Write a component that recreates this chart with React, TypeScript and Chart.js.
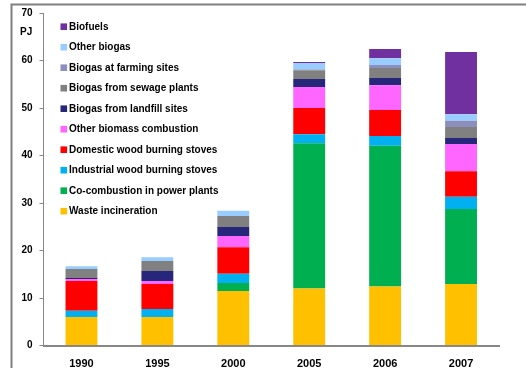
import React, { useEffect, useRef } from "react";
import { Chart, registerables } from "chart.js";

Chart.register(...registerables);

const categories = ["1990", "1995", "2000", "2005", "2006", "2007"];

const wasteIncineration = [6.0, 6.0, 11.5, 12.0, 12.4, 12.95];
const coCombustion = [0, 0, 1.65, 30.6, 29.65, 15.8];
const industrialWood = [1.3, 1.7, 1.95, 1.9, 2.05, 2.55];
const domesticWood = [6.3, 5.25, 5.6, 5.5, 5.5, 5.4];
const otherBiomass = [0.4, 0.65, 2.35, 4.4, 5.2, 5.7];
const biogasLandfill = [0.2, 2.1, 1.9, 1.7, 1.5, 1.3];
const biogasSewage = [1.9, 2.1, 2.3, 1.85, 2.1, 2.3];
const biogasFarming = [0, 0, 0, 0.15, 0.65, 1.3];
const otherBiogas = [0.6, 0.8, 1.1, 1.4, 1.45, 1.4];
const biofuels = [0, 0, 0, 0.2, 1.9, 13.1];

const yTicks = [0, 10, 20, 30, 40, 50, 60, 70];

const FONT = "'Liberation Sans', Arial, sans-serif";

const seriesDefs = [
  { label: "Waste incineration", data: wasteIncineration, color: "#FFC000" },
  { label: "Co-combustion in power plants", data: coCombustion, color: "#00B050" },
  { label: "Industrial wood burning stoves", data: industrialWood, color: "#00B0F0" },
  { label: "Domestic wood burning stoves", data: domesticWood, color: "#FF0000" },
  { label: "Other biomass combustion", data: otherBiomass, color: "#FF66FF" },
  { label: "Biogas from landfill sites", data: biogasLandfill, color: "#26267A" },
  { label: "Biogas from sewage plants", data: biogasSewage, color: "#808080" },
  { label: "Biogas at farming sites", data: biogasFarming, color: "#8C8FBE" },
  { label: "Other biogas", data: otherBiogas, color: "#99CCFF" },
  { label: "Biofuels", data: biofuels, color: "#7030A0" },
];

const framePlugin = {
  id: "frame",
  beforeDraw(chart: any) {
    const ctx = chart.ctx;
    ctx.save();
    ctx.strokeStyle = "#808080";
    ctx.lineWidth = 2;
    ctx.beginPath();
    ctx.moveTo(11.5, chart.height);
    ctx.lineTo(11.5, 4.5);
    ctx.lineTo(chart.width, 4.5);
    ctx.stroke();
    ctx.restore();
  },
};

const legendPlugin = {
  id: "insideLegend",
  afterDraw(chart: any) {
    const ctx = chart.ctx;
    const ds = chart.data.datasets;
    const n = ds.length;
    ctx.save();
    ctx.font = "bold 10px " + FONT;
    ctx.textBaseline = "middle";
    ctx.textAlign = "left";
    for (let k = 0; k < n; k++) {
      const d = ds[n - 1 - k];
      const y = 26.7 + k * 20.5;
      ctx.fillStyle = d.backgroundColor;
      ctx.fillRect(60.5, y - 3.3, 6.6, 6.6);
      ctx.fillStyle = "#000000";
      ctx.fillText(d.label, 69, y + 0.5);
    }
    // unit label
    ctx.font = "bold 10px " + FONT;
    ctx.fillText("PJ", 20, 32);
    ctx.restore();
  },
};

export default function App() {
  const ref = useRef<HTMLCanvasElement | null>(null);

  useEffect(() => {
    if (!ref.current) return;
    const chart = new Chart(ref.current, {
      type: "bar",
      data: {
        labels: categories,
        datasets: seriesDefs.map((s) => ({
          label: s.label,
          data: s.data,
          backgroundColor: s.color,
          borderWidth: 0,
          barPercentage: 0.42,
          categoryPercentage: 1,
        })),
      },
      options: {
        animation: false,
        responsive: false,
        maintainAspectRatio: false,
        layout: { padding: { top: 13, right: 27, left: 0, bottom: 0 } },
        plugins: {
          legend: { display: false },
          tooltip: { enabled: false },
        },
        scales: {
          x: {
            stacked: true,
            grid: { display: false, drawTicks: false },
            border: { display: true, color: "#888888", width: 2 },
            ticks: {
              padding: 12,
              color: "#000000",
              font: { family: FONT, size: 11, weight: "bold" },
            },
            afterFit(scale: any) {
              scale.height = 22.5;
            },
          },
          y: {
            stacked: true,
            min: 0,
            max: 70,
            afterBuildTicks(scale: any) {
              scale.ticks = yTicks.map((v) => ({ value: v }));
            },
            grid: {
              drawOnChartArea: false,
              drawTicks: true,
              tickLength: 4,
              color: "#888888",
            },
            border: { display: true, color: "#888888", width: 1 },
            ticks: {
              padding: 7,
              color: "#000000",
              font: { family: FONT, size: 10, weight: "bold" },
            },
            afterFit(scale: any) {
              scale.width = 43.5;
            },
          },
        },
      },
      plugins: [framePlugin, legendPlugin],
    });
    return () => chart.destroy();
  }, []);

  return (
    <div style={{ position: "absolute", left: 0, top: 0, width: 526, height: 368, background: "#ffffff" }}>
      <canvas ref={ref} width={526} height={368} style={{ display: "block" }} />
    </div>
  );
}
